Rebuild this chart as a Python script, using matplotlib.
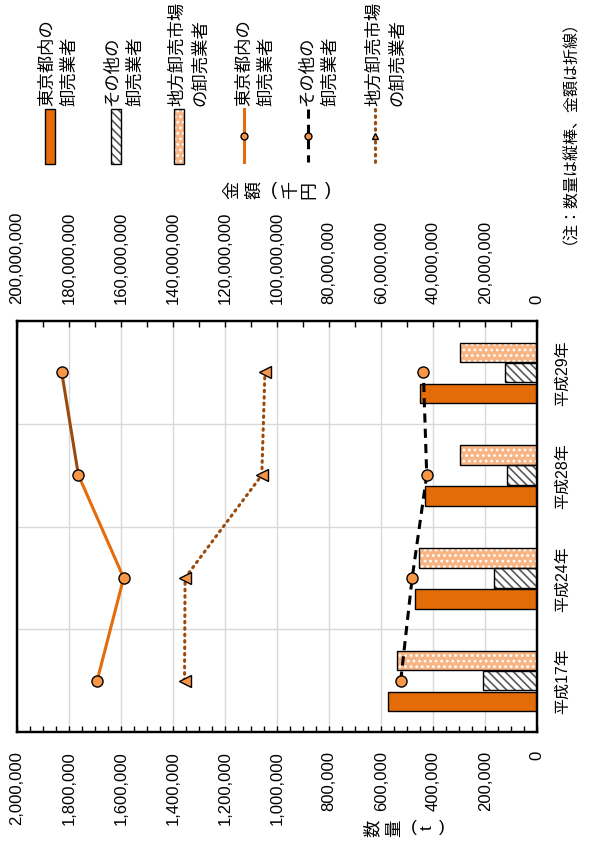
import matplotlib.pyplot as plt
from matplotlib.ticker import MultipleLocator, FuncFormatter
from matplotlib.patches import Rectangle
from matplotlib.lines import Line2D

plt.rcParams['font.family'] = ['Liberation Sans', 'Noto Sans CJK JP', 'DejaVu Sans']
plt.rcParams['hatch.linewidth'] = 1.2

# data
years = ['平成17年', '平成24年', '平成28年', '平成29年']
qty_tokyo = [573000, 471000, 432000, 452000]
qty_other = [208000, 165000, 118000, 123000]
qty_local = [538000, 456000, 297000, 297000]
amt_tokyo = [169200000, 159000000, 176400000, 182800000]
amt_other = [52500000, 48100000, 42500000, 43800000]
amt_local = [135600000, 135400000, 105900000, 104700000]
names = ['東京都内の\n卸売業者', 'その他の\n卸売業者', '地方卸売市場\nの卸売業者']

c_bar = '#E36C09'
c_line = '#E46C0A'
c_dark = '#9C4A0B'
c_mark = '#F79646'
c_local = '#F8B483'
c_grid = '#D9D9D9'
hatch_other = '\\\\\\\\'

W, H = 589, 853
fig = plt.figure(figsize=(W / 100, H / 100), dpi=100)
ax = fig.add_axes([17 / W, 120 / H, 520.3 / W, 411 / H])

y = list(range(len(years)))
bh = 0.19
yt = [v - 0.205 for v in y]
yl = [v + 0.195 for v in y]

ax.barh(yt, qty_tokyo, height=bh, color=c_bar, edgecolor='black', lw=1, zorder=2)
ax.barh(y, qty_other, height=bh, color='white', edgecolor='#595959', hatch=hatch_other, lw=0, zorder=2)
ax.barh(y, qty_other, height=bh, color='none', edgecolor='black', lw=1, zorder=3)
ax.barh(yl, qty_local, height=bh, color=c_local, edgecolor='white', hatch='...', lw=0, zorder=2)
ax.barh(yl, qty_local, height=bh, color='none', edgecolor='black', lw=1, zorder=3)

ax.set_xlim(2000000, 0)
ax.set_ylim(-0.5, 3.5)
ax.xaxis.set_major_locator(MultipleLocator(200000))
ax.xaxis.set_minor_locator(MultipleLocator(50000))
fmt = FuncFormatter(lambda v, p: f'{int(round(v)):,}')
ax.xaxis.set_major_formatter(fmt)
ax.tick_params(axis='x', which='both', direction='in', pad=13, labelrotation=90,
               labelsize=12, length=4, width=1)
ax.set_yticks(y)
ax.set_yticklabels(years)
ax.set_yticks([0.5, 1.5, 2.5], minor=True)
ax.yaxis.tick_right()
ax.tick_params(axis='y', which='both', length=0, pad=13, labelrotation=90, labelsize=11.5)
for lbl in ax.get_yticklabels():
    lbl.set_va('center')
ax.grid(axis='x', which='major', color=c_grid, lw=1)
ax.grid(axis='y', which='minor', color=c_grid, lw=1)
ax.set_axisbelow(True)
for s in ax.spines.values():
    s.set_linewidth(1.6)

ax2 = ax.twiny()
ax2.set_xlim(200000000, 0)
ax2.xaxis.set_major_locator(MultipleLocator(20000000))
ax2.xaxis.set_minor_locator(MultipleLocator(10000000))
ax2.xaxis.set_major_formatter(fmt)
ax2.tick_params(axis='x', which='both', direction='in', pad=13, labelrotation=90,
                labelsize=12, length=4, width=1)
for s in ax2.spines.values():
    s.set_linewidth(1.6)

mk = dict(ms=8, mfc=c_mark, mec='black', mew=1)
ax2.plot(amt_tokyo[:3], y[:3], color=c_line, lw=2.2, zorder=3)
ax2.plot(amt_tokyo[2:], y[2:], color=c_dark, lw=2.2, zorder=3)
ax2.plot(amt_tokyo, y, ls='none', marker='o', zorder=4, **mk)
ax2.plot(amt_other, y, color='black', lw=2.2, ls=(0, (3, 2)), marker='o', zorder=4, **mk)
ax2.plot(amt_local, y, color=c_dark, lw=2.2, ls=(0, (0.5, 1.6)), dash_capstyle='round',
         marker='<', zorder=4, **mk)

# legend and titles (overlay in pixel coords)
lax = fig.add_axes([0, 0, 1, 1])
lax.set_xlim(0, W)
lax.set_ylim(H, 0)
lax.axis('off')

lax.add_patch(Rectangle((45, 110), 10, 55, facecolor=c_bar, edgecolor='black', lw=1))
lax.add_patch(Rectangle((111, 110), 10, 55, facecolor='white', edgecolor='#595959',
                        hatch=hatch_other, lw=0))
lax.add_patch(Rectangle((111, 110), 10, 55, facecolor='none', edgecolor='black', lw=1))
lax.add_patch(Rectangle((174, 110), 10, 55, facecolor=c_local, edgecolor='white', hatch='...', lw=0))
lax.add_patch(Rectangle((174, 110), 10, 55, facecolor='none', edgecolor='black', lw=1))

lk = dict(ms=5, mfc=c_mark, mec='black', mew=1)
lax.add_line(Line2D([244, 244], [110, 163], color=c_line, lw=2.2))
lax.plot([244], [137], marker='o', **lk)
lax.add_line(Line2D([308, 308], [110, 163], color='black', lw=2.2, ls=(0, (3, 2))))
lax.plot([308], [137], marker='o', **lk)
lax.add_line(Line2D([375, 375], [110, 163], color=c_dark, lw=2.2, ls=(0, (0.5, 1.6)),
                    dash_capstyle='round'))
lax.plot([375], [137], marker='^', **lk)

for x0, txt in zip([39, 104, 169, 236, 299, 366], names + names):
    lax.text(x0, 106, txt, rotation=90, ha='left', va='bottom', multialignment='left',
             fontsize=12.5, linespacing=1.45)

for xc, ch in zip([233, 255, 274, 292, 310, 328], '金額(千円)'):
    lax.text(xc, 190, ch, rotation=0 if ch in '()' else 90, ha='center', va='center',
             fontsize=13)
for xc, ch in zip([372, 395, 414, 427, 442], '数量(t)'):
    lax.text(xc, 828, ch, rotation=0 if ch in '()' else 90, ha='center', va='center',
             fontsize=12.5)

lax.text(562, 124, '（注：数量は縦棒、金額は折線）', rotation=90, ha='center', va='center',
         fontsize=11.5)

fig.savefig('out.png', dpi=100)
